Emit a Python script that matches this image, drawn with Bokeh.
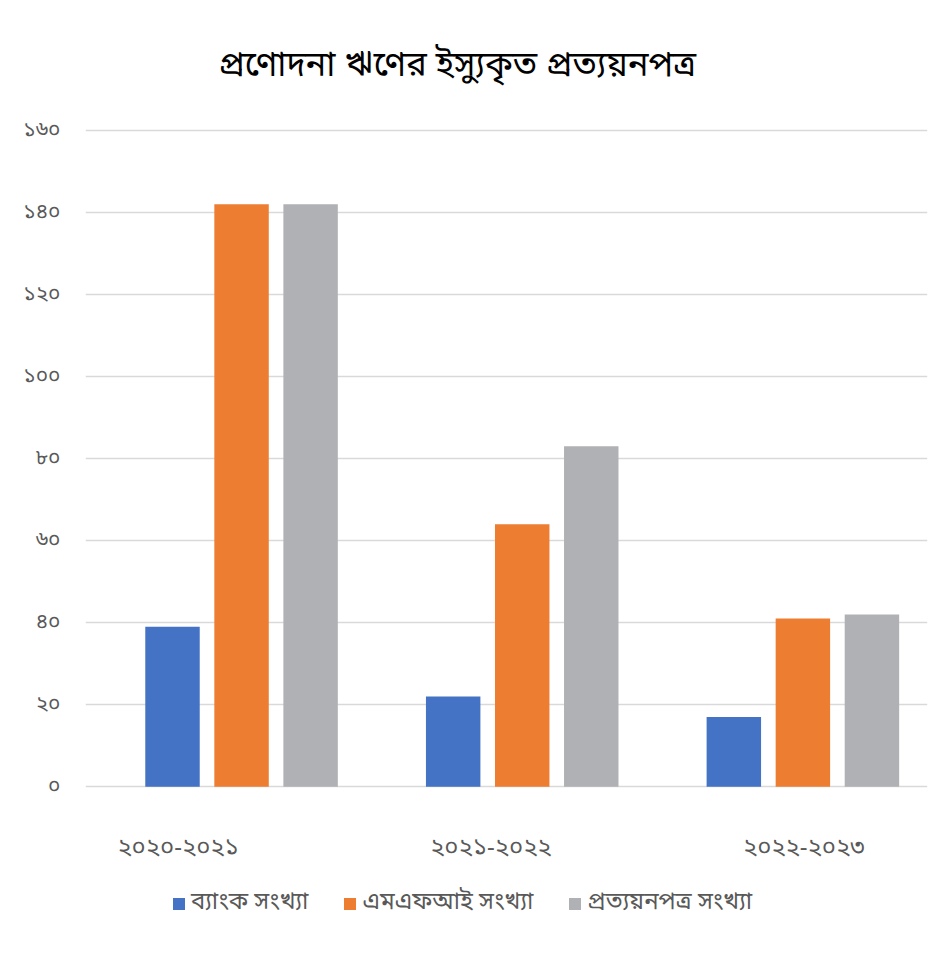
from bokeh.plotting import figure
from bokeh.models import (ColumnDataSource, Range1d, FixedTicker,
                          Legend, LegendItem, Title)
from bokeh.core.properties import value
from bokeh.transform import dodge
from bokeh.embed import file_html
from bokeh.resources import INLINE

# ---------------- data ----------------
chart_title = "প্রণোদনা ঋণের ইস্যুকৃত প্রত্যয়নপত্র"
categories = ["২০২০-২০২১", "২০২১-২০২২", "২০২২-২০২৩"]
series_names = ["ব্যাংক সংখ্যা", "এমএফআই সংখ্যা", "প্রত্যয়নপত্র সংখ্যা"]
bank = [39, 22, 17]
mfi = [142, 64, 41]
cert = [142, 83, 42]
y_ticks = [0, 20, 40, 60, 80, 100, 120, 140, 160]
y_tick_labels = ["০", "২০", "৪০", "৬০", "৮০", "১০০", "১২০", "১৪০", "১৬০"]

# ---------------- style ----------------
FONT = "'Noto Sans Bengali', 'Noto Sans', sans-serif"
colors = ["#4472C4", "#ED7D31", "#B0B1B4"]
offsets = [-0.19, 0.056, 0.302]
bar_w = 0.194
TXT = "#595959"
LABEL_Y = -15.1          # vertical place of the category labels (data units)

cat_pos = [i + 0.5 for i in range(len(categories))]
source = ColumnDataSource(dict(pos=cat_pos, cat=categories, bank=bank, mfi=mfi, cert=cert,
                               ly=[LABEL_Y] * len(categories)))

p = figure(width=950, height=957, output_backend="svg", toolbar_location=None,
           x_range=Range1d(0, len(categories)),
           y_range=Range1d(-37.5, 160.5), x_axis_location=None,
           min_border_left=85, min_border_right=23, min_border_top=128,
           min_border_bottom=17, outline_line_color=None,
           background_fill_color="white", border_fill_color="white")
p.xgrid.visible = False

p.title = Title(text=chart_title, align="left", offset=133, standoff=78,
                text_font=FONT, text_font_size="34.5px", text_font_style="normal",
                text_color="#000000")

renderers = []
for key, col, off in zip(["bank", "mfi", "cert"], colors, offsets):
    r = p.vbar(x=dodge("pos", off), top=key, bottom=0, width=bar_w,
               source=source, fill_color=col, line_color=None)
    renderers.append(r)

# y axis
yax = p.yaxis[0]
yax.ticker = FixedTicker(ticks=y_ticks)
yax.major_label_overrides = {t: l for t, l in zip(y_ticks, y_tick_labels)}
yax.axis_line_color = None
yax.major_tick_line_color = None
yax.minor_tick_line_color = None
yax.major_label_standoff = 19
yax.major_label_text_font = FONT
yax.major_label_text_font_size = "21px"
yax.major_label_text_color = TXT

p.ygrid.grid_line_color = "#D9D9D9"
p.ygrid.grid_line_width = 1.5
p.ygrid.ticker = FixedTicker(ticks=y_ticks)

# category labels, on their own horizontal scale
p.extra_x_ranges = {"lab": Range1d(0.204, 2.896)}
p.text(x="pos", y="ly", text="cat", source=source, x_range_name="lab",
       text_align="center", text_baseline="middle", text_font=value(FONT),
       text_font_size="24px", text_color=TXT)

legend = Legend(items=[LegendItem(label=n, renderers=[r]) for n, r in zip(series_names, renderers)],
                orientation="horizontal", location=(86, 21), padding=0, margin=0,
                spacing=34, label_standoff=5, glyph_width=15, glyph_height=15,
                label_text_font=FONT, label_text_font_size="24px", label_text_color=TXT,
                border_line_color=None, background_fill_alpha=0)
p.add_layout(legend, "center")

open("out.html", "w").write(file_html(p, INLINE))
